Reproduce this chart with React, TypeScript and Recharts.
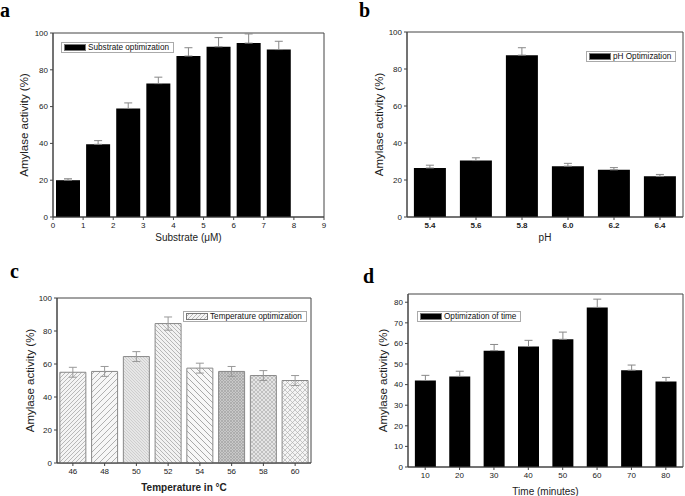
import React from 'react';
import { BarChart, Bar, XAxis, YAxis, ErrorBar, Cell, Legend, ReferenceArea } from 'recharts';

// a: substrate
const subX = [0.5, 1.5, 2.5, 3.5, 4.5, 5.5, 6.5, 7.5];
const subVals = [20, 39.5, 59, 72.5, 87.5, 92.5, 94.5, 91];
const subErr = [0.8, 2, 3, 3.5, 4.5, 5, 5, 4.5];
const subTicks = [0, 1, 2, 3, 4, 5, 6, 7, 8, 9];

// b: pH
const phCats = ['5.4', '5.6', '5.8', '6.0', '6.2', '6.4'];
const phVals = [26.5, 30.5, 87.5, 27.5, 25.5, 22];
const phErr = [1.5, 1.5, 4, 1.5, 1.2, 1];

// c: temperature
const tempCats = ['46', '48', '50', '52', '54', '56', '58', '60'];
const tempVals = [55, 55.5, 64.5, 84.5, 57.5, 55.5, 53, 50];
const tempErr = [3, 3, 3, 4, 3, 3, 3, 3];

// d: time
const timeCats = ['10', '20', '30', '40', '50', '60', '70', '80'];
const timeVals = [42, 44, 56.5, 58.5, 62, 77.5, 47, 41.5];
const timeErr = [2.5, 2.5, 3, 3, 3.5, 4, 2.5, 2];

const pctTicks = [0, 20, 40, 60, 80, 100];
const timeTicks = [0, 10, 20, 30, 40, 50, 60, 70, 80];

const font = '"Liberation Sans", Arial, sans-serif';
const tickStyle = { fontSize: 8, fill: '#222', fontFamily: font };
const axisColor = '#444';

const subData = subX.map((x, i) => ({ x, v: subVals[i], err: [0, subErr[i]] }));
const phData = phCats.map((c, i) => ({ c, v: phVals[i], err: [0, phErr[i]] }));
const tempData = tempCats.map((c, i) => ({ c, v: tempVals[i], err: tempErr[i] }));
const timeData = timeCats.map((c, i) => ({ c, v: timeVals[i], err: [0, timeErr[i]] }));

const hatchIds = ['h1', 'h2', 'h3', 'h4', 'h5', 'h6', 'h7', 'h8'];

const Hatches = () => (
  <defs>
    <pattern id="h1" width="4" height="4" patternUnits="userSpaceOnUse">
      <rect width="4" height="4" fill="#f4f4f4" />
      <path d="M-1,1 l2,-2 M0,4 l4,-4 M3,5 l2,-2" stroke="#a8a8a8" strokeWidth="0.8" />
    </pattern>
    <pattern id="h2" width="6" height="6" patternUnits="userSpaceOnUse">
      <rect width="6" height="6" fill="#f6f6f6" />
      <path d="M-1,1 l2,-2 M0,6 l6,-6 M5,7 l2,-2" stroke="#a8a8a8" strokeWidth="0.9" />
    </pattern>
    <pattern id="h3" width="3" height="3" patternUnits="userSpaceOnUse">
      <rect width="3" height="3" fill="#e6e6e6" />
      <path d="M-1,2 l2,2 M0,0 l3,3 M2,-1 l2,2" stroke="#c4c4c4" strokeWidth="0.7" />
    </pattern>
    <pattern id="h4" width="4" height="4" patternUnits="userSpaceOnUse">
      <rect width="4" height="4" fill="#f2f2f2" />
      <path d="M-1,3 l2,2 M0,0 l4,4 M3,-1 l2,2" stroke="#a8a8a8" strokeWidth="0.8" />
    </pattern>
    <pattern id="h5" width="6" height="6" patternUnits="userSpaceOnUse">
      <rect width="6" height="6" fill="#f8f8f8" />
      <path d="M-1,5 l2,2 M0,0 l6,6 M5,-1 l2,2" stroke="#a0a0a0" strokeWidth="0.9" />
    </pattern>
    <pattern id="h6" width="3" height="3" patternUnits="userSpaceOnUse">
      <rect width="3" height="3" fill="#c8c8c8" />
      <path d="M0,0 l3,3 M0,3 l3,-3" stroke="#a4a4a4" strokeWidth="0.7" />
    </pattern>
    <pattern id="h7" width="4" height="4" patternUnits="userSpaceOnUse">
      <rect width="4" height="4" fill="#e4e4e4" />
      <path d="M0,0 l4,4 M0,4 l4,-4" stroke="#b0b0b0" strokeWidth="0.7" />
    </pattern>
    <pattern id="h8" width="5" height="5" patternUnits="userSpaceOnUse">
      <rect width="5" height="5" fill="#f4f4f4" />
      <path d="M0,0 l5,5 M0,5 l5,-5" stroke="#b0b0b0" strokeWidth="0.7" />
    </pattern>
  </defs>
);

const legendBox = (text: string, fill: string) => () => (
  <div
    style={{
      display: 'inline-flex',
      alignItems: 'center',
      height: 11,
      border: '1px solid #aaa',
      background: '#fff',
      fontFamily: font,
      fontSize: 8.2,
      color: '#111',
      boxSizing: 'border-box',
      padding: '0 4px 0 2px',
      whiteSpace: 'nowrap',
    }}
  >
    <svg width={22} height={7} style={{ marginRight: 2, flex: 'none' }}>
      <rect x={0.5} y={0.5} width={21} height={6} fill={fill} stroke="#777" />
    </svg>
    {text}
  </div>
);

const Letter = ({ t, x, y }: { t: string; x: number; y: number }) => (
  <div
    style={{
      position: 'absolute',
      left: x,
      top: y,
      fontFamily: '"Liberation Serif", "Times New Roman", serif',
      fontWeight: 'bold',
      fontSize: 20,
      lineHeight: '20px',
      color: '#000',
    }}
  >
    {t}
  </div>
);

const yLabel = (offset: number) => ({
  value: 'Amylase activity (%)',
  angle: -90,
  position: 'insideLeft' as const,
  offset,
  style: { textAnchor: 'middle', fontSize: 11.5, fill: '#222', fontFamily: font },
});

const xLabel = (value: string, offset: number, bold = false) => ({
  value,
  position: 'insideBottom' as const,
  offset,
  style: { fontSize: 10, fill: '#222', fontFamily: font, fontWeight: bold ? 'bold' : 'normal' },
});

const App = () => {
  return (
    <div style={{ position: 'absolute', left: 0, top: 0, width: 685, height: 496, background: '#fff', overflow: 'hidden' }}>
      <Letter t="a" x={0} y={0} />
      <Letter t="b" x={359} y={0} />
      <Letter t="c" x={10} y={261} />
      <Letter t="d" x={363} y={266} />

      {/* a */}
      <div style={{ position: 'absolute', left: 0, top: 0 }}>
        <BarChart width={340} height={245} data={subData} margin={{ top: 33, right: 16, bottom: 0, left: 0 }}>
          <XAxis dataKey="x" type="number" domain={[0, 9]} ticks={subTicks} height={28} tick={tickStyle}
            stroke={axisColor} tickSize={3} label={xLabel('Substrate (μM)', 4)} />
          <YAxis domain={[0, 100]} ticks={pctTicks} width={53} tick={tickStyle} stroke={axisColor} tickSize={3}
            label={yLabel(24)} />
          <ReferenceArea y1={0} y2={100} fill="none" stroke={axisColor} ifOverflow="visible" />
          <Legend layout="vertical" align="center" verticalAlign="middle" content={legendBox('Substrate optimization', '#000')}
            wrapperStyle={{ left: 61, top: 37, width: 'auto' }} />
          <Bar dataKey="v" name="Substrate optimization" fill="#000" barSize={24} isAnimationActive={false}>
            <ErrorBar dataKey="err" direction="y" width={4} stroke="#888" strokeWidth={1} />
          </Bar>
        </BarChart>
      </div>

      {/* b */}
      <div style={{ position: 'absolute', left: 340, top: 0 }}>
        <BarChart width={345} height={245} data={phData} margin={{ top: 32, right: 2, bottom: 0, left: 0 }} barCategoryGap="15%">
          <XAxis dataKey="c" height={28} tick={{ ...tickStyle, fontWeight: 'bold' }} stroke={axisColor} tickSize={3}
            label={xLabel('pH', 4)} />
          <YAxis domain={[0, 100]} ticks={pctTicks} width={67} tick={tickStyle} stroke={axisColor} tickSize={3}
            label={yLabel(39)} />
          <ReferenceArea y1={0} y2={100} fill="none" stroke={axisColor} ifOverflow="visible" />
          <Legend layout="vertical" align="center" verticalAlign="middle" content={legendBox('pH Optimization', '#000')}
            wrapperStyle={{ left: 246, top: 46, width: 'auto' }} />
          <Bar dataKey="v" name="pH Optimization" fill="#000" isAnimationActive={false}>
            <ErrorBar dataKey="err" direction="y" width={4} stroke="#888" strokeWidth={1} />
          </Bar>
        </BarChart>
      </div>

      {/* c */}
      <div style={{ position: 'absolute', left: 0, top: 250 }}>
        <BarChart width={340} height={246} data={tempData} margin={{ top: 48, right: 29, bottom: 0, left: 0 }} barCategoryGap="9%">
          <Hatches />
          <XAxis dataKey="c" height={33} tick={tickStyle} stroke={axisColor} tickSize={3}
            label={xLabel('Temperature in °C', 5, true)} />
          <YAxis domain={[0, 100]} ticks={pctTicks} width={57} tick={tickStyle} stroke={axisColor} tickSize={3}
            label={yLabel(30)} />
          <ReferenceArea y1={0} y2={100} fill="none" stroke={axisColor} ifOverflow="visible" />
          <Legend layout="vertical" align="center" verticalAlign="middle" content={legendBox('Temperature optimization', 'url(#h1)')}
            wrapperStyle={{ left: 183, top: 56, width: 'auto' }} />
          <Bar dataKey="v" name="Temperature optimization" stroke="#888" strokeWidth={1} isAnimationActive={false}>
            {tempData.map((d, i) => (
              <Cell key={d.c} fill={`url(#${hatchIds[i]})`} />
            ))}
            <ErrorBar dataKey="err" direction="y" width={4} stroke="#999" strokeWidth={1} />
          </Bar>
        </BarChart>
      </div>

      {/* d */}
      <div style={{ position: 'absolute', left: 340, top: 250 }}>
        <BarChart width={345} height={246} data={timeData} margin={{ top: 44, right: 2, bottom: 0, left: 0 }} barCategoryGap="20%">
          <XAxis dataKey="c" height={29} tick={tickStyle} stroke={axisColor} tickSize={3}
            label={xLabel('Time (minutes)', 1)} />
          <YAxis domain={[0, 84]} ticks={timeTicks} width={68} tick={tickStyle} stroke={axisColor} tickSize={3}
            label={yLabel(43)} />
          <ReferenceArea y1={0} y2={84} fill="none" stroke={axisColor} ifOverflow="visible" />
          <Legend layout="vertical" align="center" verticalAlign="middle" content={legendBox('Optimization of time', '#000')}
            wrapperStyle={{ left: 77, top: 56, width: 'auto' }} />
          <Bar dataKey="v" name="Optimization of time" fill="#000" isAnimationActive={false}>
            <ErrorBar dataKey="err" direction="y" width={4} stroke="#888" strokeWidth={1} />
          </Bar>
        </BarChart>
      </div>
    </div>
  );
};

export default App;
